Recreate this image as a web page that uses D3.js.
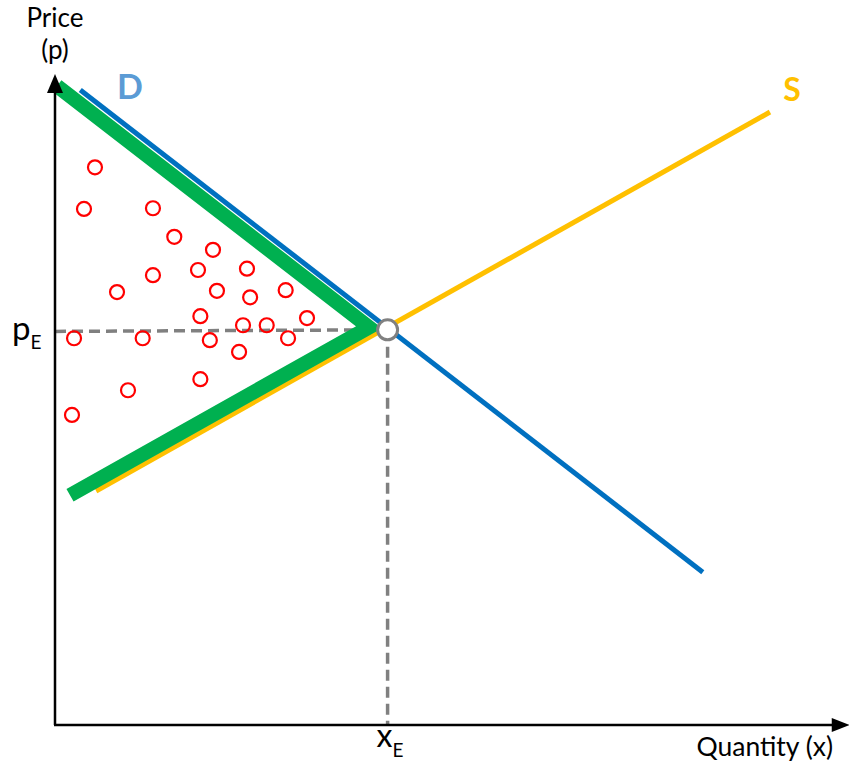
<!DOCTYPE html>
<html>
<head>
<meta charset="utf-8">
<script src="https://cdn.jsdelivr.net/npm/d3@7"></script>
<style>
  html, body { margin: 0; padding: 0; background: #fff; }
  svg { display: block; font-family: Lato, "Open Sans", sans-serif; }
</style>
</head>
<body>
<svg id="chart" width="849" height="761"></svg>
<script>
// ---- data (chart units: quantity 0..100, price 0..100) ----
const demandLine = [[3.2, 97.7], [82.0, 23.5]];
const supplyLine = [[5.2, 36.0], [90.5, 94.3]];
const surplusOutline = [[0.25, 98.3], [39.75, 61.2], [1.9, 35.35]];
const equilibrium = { q: 42.1, p: 60.8 };
const pricePoints = [
  [5.06, 85.8], [3.67, 79.4], [12.4, 79.5], [15.1, 75.1], [20.0, 73.1],
  [12.4, 69.2], [18.1, 70.0], [24.3, 70.2], [7.85, 66.6], [20.5, 66.8],
  [24.7, 65.8], [29.2, 66.9], [18.4, 62.9], [23.8, 61.5], [26.8, 61.5],
  [31.9, 62.6], [2.41, 59.5], [11.1, 59.5], [19.6, 59.2], [29.5, 59.5],
  [23.3, 57.4], [18.4, 53.2], [9.24, 51.5], [2.15, 47.7]
];
const labels = { yTitle: ["Price", "(p)"], xTitle: "Quantity (x)", demand: "D", supply: "S", pE: ["p", "E"], xE: ["x", "E"] };

// ---- scales ----
const x = d3.scaleLinear().domain([0, 100]).range([55, 845]);
const y = d3.scaleLinear().domain([0, 100]).range([725, 75]);
const svg = d3.select("#chart");
const line = d3.line().x(d => x(d[0])).y(d => y(d[1]));

// dashed guides
svg.append("line")
  .attr("x1", x(0)).attr("y1", y(equilibrium.p - 0.25))
  .attr("x2", x(equilibrium.q)).attr("y2", y(equilibrium.p))
  .attr("stroke", "#808080").attr("stroke-width", 3.5).attr("stroke-dasharray", "11,6");
svg.append("line")
  .attr("x1", x(equilibrium.q)).attr("y1", y(equilibrium.p))
  .attr("x2", x(equilibrium.q)).attr("y2", y(0))
  .attr("stroke", "#808080").attr("stroke-width", 3.5).attr("stroke-dasharray", "11,6");

// red points
svg.append("g").selectAll("circle").data(pricePoints).join("circle")
  .attr("cx", d => x(d[0])).attr("cy", d => y(d[1])).attr("r", 7)
  .attr("fill", "none").attr("stroke", "#FF0000").attr("stroke-width", 2.2);

// demand & supply
svg.append("path").attr("d", line(demandLine)).attr("fill", "none")
  .attr("stroke", "#0070C0").attr("stroke-width", 5);
svg.append("path").attr("d", line(supplyLine)).attr("fill", "none")
  .attr("stroke", "#FFC000").attr("stroke-width", 5);

// green surplus outline
svg.append("path").attr("d", line(surplusOutline)).attr("fill", "none")
  .attr("stroke", "#00B050").attr("stroke-width", 14.5).attr("stroke-linejoin", "miter");

// axes
svg.append("line").attr("x1", x(0)).attr("y1", y(0)).attr("x2", x(0)).attr("y2", y(100) + 10)
  .attr("stroke", "#000").attr("stroke-width", 2.5);
svg.append("line").attr("x1", x(0) - 1).attr("y1", y(0)).attr("x2", x(100.4) - 10).attr("y2", y(0))
  .attr("stroke", "#000").attr("stroke-width", 2.5);
const ax0 = x(0), ay = y(100) - 1;
svg.append("path").attr("d", `M${ax0},${ay} L${ax0 - 8},${ay + 19} L${ax0 + 8},${ay + 19} Z`).attr("fill", "#000");
const bx = x(100.6), by = y(0);
svg.append("path").attr("d", `M${bx},${by} L${bx - 18},${by - 7} L${bx - 18},${by + 7} Z`).attr("fill", "#000");

// equilibrium marker
svg.append("circle").attr("cx", x(equilibrium.q)).attr("cy", y(equilibrium.p)).attr("r", 10)
  .attr("fill", "#fff").attr("stroke", "#808080").attr("stroke-width", 3);

// text
svg.append("text").attr("x", x(0)).attr("y", 27).attr("text-anchor", "middle")
  .attr("font-size", 26).text(labels.yTitle[0]);
svg.append("text").attr("x", x(0)).attr("y", 59).attr("text-anchor", "middle")
  .attr("font-size", 26).text(labels.yTitle[1]);
svg.append("text").attr("x", 833).attr("y", 756).attr("text-anchor", "end")
  .attr("font-size", 26.5).text(labels.xTitle);
svg.append("text").attr("x", x(9.5)).attr("y", y(97.7) + 9).attr("text-anchor", "middle")
  .attr("font-size", 34).attr("font-weight", "bold").attr("fill", "#5B9BD5").text(labels.demand);
svg.append("text").attr("x", x(93.3)).attr("y", y(94.3) - 11).attr("text-anchor", "middle")
  .attr("font-size", 32).attr("font-weight", "bold").attr("fill", "#FFC000").text(labels.supply);

const pe = svg.append("text").attr("x", 12).attr("y", y(equilibrium.p) + 10).attr("font-size", 33);
pe.append("tspan").text(labels.pE[0]);
pe.append("tspan").attr("font-size", 19).attr("dy", 9).text(labels.pE[1]);

const xe = svg.append("text").attr("x", x(equilibrium.q) - 11).attr("y", 747).attr("font-size", 32);
xe.append("tspan").text(labels.xE[0]);
xe.append("tspan").attr("font-size", 19).attr("dy", 10).text(labels.xE[1]);
</script>
</body>
</html>
